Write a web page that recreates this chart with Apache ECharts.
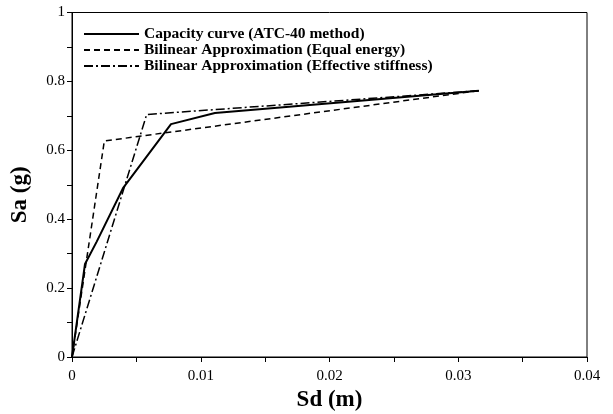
<!DOCTYPE html>
<html>
<head>
<meta charset="utf-8">
<script src="https://cdn.jsdelivr.net/npm/echarts@6/dist/echarts.min.js"></script>
<style>
html,body{margin:0;padding:0;background:#fff;}
#chart{width:613px;height:414px;}
</style>
</head>
<body>
<div id="chart"></div>
<script>
// Capacity curve (ATC-40 method)
const sdCapacity = [0, 0.00101, 0.00192, 0.00396, 0.00769, 0.0111, 0.0316];
const saCapacity = [0, 0.27, 0.335, 0.49, 0.676, 0.708, 0.773];
// Bilinear Approximation (Equal energy)
const sdEqual = [0, 0.00251, 0.0316];
const saEqual = [0, 0.627, 0.773];
// Bilinear Approximation (Effective stiffness)
const sdEffective = [0, 0.0058, 0.0316];
const saEffective = [0, 0.704, 0.773];

const seriesNames = [
  'Capacity curve (ATC-40 method)',
  'Bilinear Approximation (Equal energy)',
  'Bilinear Approximation (Effective stiffness)'
];
const xTicks = {min: 0, max: 0.04, interval: 0.01};
const yTicks = {min: 0, max: 1, interval: 0.2};

const pair = (xs, ys) => xs.map((x, i) => [x, ys[i]]);
const font = '"Liberation Serif", "Times New Roman", serif';

const chart = echarts.init(document.getElementById('chart'), null, {renderer: 'canvas'});
chart.setOption({
  animation: false,
  backgroundColor: '#fff',
  grid: {left: 72, right: 26, top: 12.5, bottom: 57, containLabel: false, outerBoundsMode: 'none',
    show: true, borderColor: '#000', borderWidth: 1},
  legend: {
    orient: 'vertical',
    left: 78, top: 21,
    itemWidth: 55, itemHeight: 10, itemGap: 0,
    itemStyle: {opacity: 0},
    textStyle: {fontFamily: font, fontWeight: 'bold', fontSize: 15.5, lineHeight: 15, color: '#000'},
    data: seriesNames
  },
  xAxis: {
    type: 'value', min: xTicks.min, max: xTicks.max, interval: xTicks.interval,
    name: 'Sd (m)', nameLocation: 'middle', nameGap: 29,
    nameTextStyle: {fontFamily: font, fontWeight: 'bold', fontSize: 23, color: '#000'},
    axisLine: {lineStyle: {color: '#000', width: 1}},
    axisTick: {show: true, inside: false, length: 5, lineStyle: {color: '#000'}},
    minorTick: {show: true, splitNumber: 2, length: 5, lineStyle: {color: '#000'}},
    axisLabel: {fontFamily: font, fontSize: 15, color: '#000', margin: 12,
      formatter: v => String(+v.toFixed(2))},
    splitLine: {show: false}
  },
  yAxis: {
    type: 'value', min: yTicks.min, max: yTicks.max, interval: yTicks.interval,
    name: 'Sa (g)', nameLocation: 'middle', nameGap: 40,
    nameTextStyle: {fontFamily: font, fontWeight: 'bold', fontSize: 23, color: '#000', padding: [0, 20, 0, 0]},
    axisLine: {lineStyle: {color: '#000', width: 1}},
    axisTick: {show: true, inside: false, length: 5, lineStyle: {color: '#000'}},
    minorTick: {show: true, splitNumber: 2, length: 5, lineStyle: {color: '#000'}},
    axisLabel: {fontFamily: font, fontSize: 15, color: '#000', margin: 7,
      formatter: v => String(+v.toFixed(1))},
    splitLine: {show: false}
  },
  series: [
    {name: seriesNames[0], type: 'line', symbol: 'none', data: pair(sdCapacity, saCapacity),
      lineStyle: {color: '#000', width: 2, type: 'solid'}, itemStyle: {color: '#000'}},
    {name: seriesNames[1], type: 'line', symbol: 'none', data: pair(sdEqual, saEqual),
      lineStyle: {color: '#000', width: 1.5, type: [6, 4]}, itemStyle: {color: '#000'}},
    {name: seriesNames[2], type: 'line', symbol: 'none', data: pair(sdEffective, saEffective),
      lineStyle: {color: '#000', width: 1.5, type: [9, 3, 2, 3]}, itemStyle: {color: '#000'}}
  ]
});
</script>
</body>
</html>
